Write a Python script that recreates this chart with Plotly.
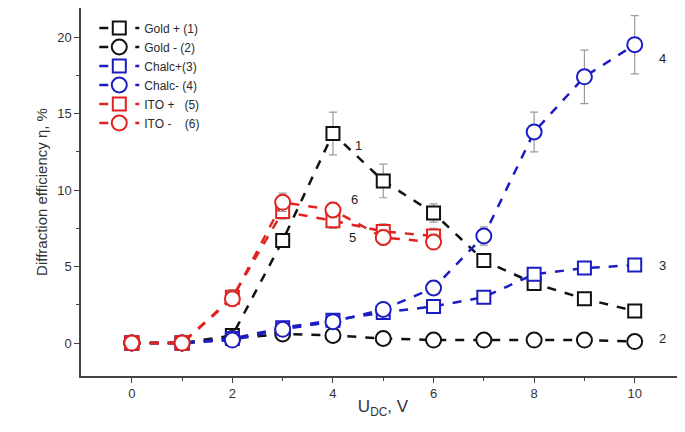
import plotly.graph_objects as go

# U_DC, V
volts = [0, 1, 2, 3, 4, 5, 6, 7, 8, 9, 10]
volts_ito = [0, 1, 2, 3, 4, 5, 6]

# diffraction efficiency, %
gold_plus = [0, 0, 0.5, 6.7, 13.7, 10.6, 8.5, 5.4, 3.9, 2.9, 2.1]
gold_plus_err = [0.1, 0.1, 0.3, 0.4, 1.4, 1.1, 0.6, 0.3, 0.3, 0.3, 0.3]
gold_minus = [0, 0, 0.3, 0.6, 0.5, 0.3, 0.2, 0.2, 0.2, 0.2, 0.1]
gold_minus_err = [0.1, 0.1, 0.2, 0.2, 0.2, 0.2, 0.2, 0.2, 0.2, 0.2, 0.2]
chalc_plus = [0, 0, 0.3, 1.0, 1.5, 2.0, 2.4, 3.0, 4.5, 4.9, 5.1]
chalc_plus_err = [0.1, 0.1, 0.2, 0.3, 0.3, 0.3, 0.3, 0.3, 0.4, 0.3, 0.3]
chalc_minus = [0, 0, 0.2, 0.9, 1.4, 2.2, 3.6, 7.0, 13.8, 17.4, 19.5]
chalc_minus_err = [0.1, 0.1, 0.2, 0.3, 0.3, 0.4, 0.4, 0.6, 1.3, 1.75, 1.9]
ito_plus = [0, 0, 3.0, 8.6, 8.0, 7.3, 7.0]
ito_plus_err = [0.1, 0.1, 0.5, 0.5, 0.5, 0.5, 0.5]
ito_minus = [0, 0, 2.9, 9.2, 8.7, 6.9, 6.6]
ito_minus_err = [0.1, 0.1, 0.5, 0.6, 0.5, 0.5, 0.5]

BLACK = "#111111"
BLUE = "#1c1cc4"
RED = "#e0231f"

series = [
    ("Gold + (1)", volts, gold_plus, gold_plus_err, BLACK, "square"),
    ("Gold - (2)", volts, gold_minus, gold_minus_err, BLACK, "circle"),
    ("Chalc+(3)", volts, chalc_plus, chalc_plus_err, BLUE, "square"),
    ("Chalc- (4)", volts, chalc_minus, chalc_minus_err, BLUE, "circle"),
    ("ITO +   (5)", volts_ito, ito_plus, ito_plus_err, RED, "square"),
    ("ITO -    (6)", volts_ito, ito_minus, ito_minus_err, RED, "circle"),
]

fig = go.Figure()
for name, x, y, err, color, sym in series:
    fig.add_trace(go.Scatter(
        x=x, y=y, name=name, mode="lines+markers",
        line=dict(color=color, width=2.5, dash="dash"),
        marker=dict(symbol=sym, size=13 if sym == "square" else 15,
                    color="white", line=dict(color=color, width=2)),
        error_y=dict(type="data", array=err, color="#9a9a9a", thickness=1.2, width=4),
    ))

# curve numbers
labels = [("1", 4.5, 12.9), ("2", 10.55, 0.3), ("3", 10.55, 5.1),
          ("4", 10.55, 18.6), ("5", 4.38, 6.9), ("6", 4.42, 9.4)]
for txt, lx, ly in labels:
    fig.add_annotation(x=lx, y=ly, text=txt, showarrow=False,
                       font=dict(size=13, color="#222"))

# the page body adds an 8px offset, so the figure is 8px smaller than the window
fig.update_layout(
    width=677, height=424,
    margin=dict(l=73, r=0, t=0, b=56),
    plot_bgcolor="white", paper_bgcolor="white",
    font=dict(family="Liberation Sans, Arial, sans-serif", size=13, color="#333"),
    legend=dict(x=0.022, y=0.985, xanchor="left", yanchor="top",
                bgcolor="rgba(0,0,0,0)", font=dict(size=12, color="#2a2a2a"),
                tracegroupgap=0, itemwidth=40),
    showlegend=True,
)
fig.update_xaxes(
    range=[-1.01, 11.0], tickvals=[0, 2, 4, 6, 8, 10], automargin=False,
    ticks="outside", ticklen=5, tickcolor="#444",
    minor=dict(tickvals=[1, 3, 5, 7, 9], ticks="outside", ticklen=3, tickcolor="#444"),
    showline=True, linecolor="#444", linewidth=1.5, showgrid=False, zeroline=False,
    title=dict(text="U<sub>DC</sub>, V", font=dict(size=17), standoff=0),
)
fig.update_yaxes(
    range=[-2.15, 21.9], tickvals=[0, 5, 10, 15, 20], automargin=False,
    ticks="outside", ticklen=5, tickcolor="#444",
    minor=dict(tickvals=[2.5, 7.5, 12.5, 17.5], ticks="outside", ticklen=3, tickcolor="#444"),
    showline=True, linecolor="#444", linewidth=1.5, showgrid=False, zeroline=False,
    title=dict(text="Diffraction efficiency η, %", font=dict(size=15), standoff=6),
)

fig.write_html("out.html")
